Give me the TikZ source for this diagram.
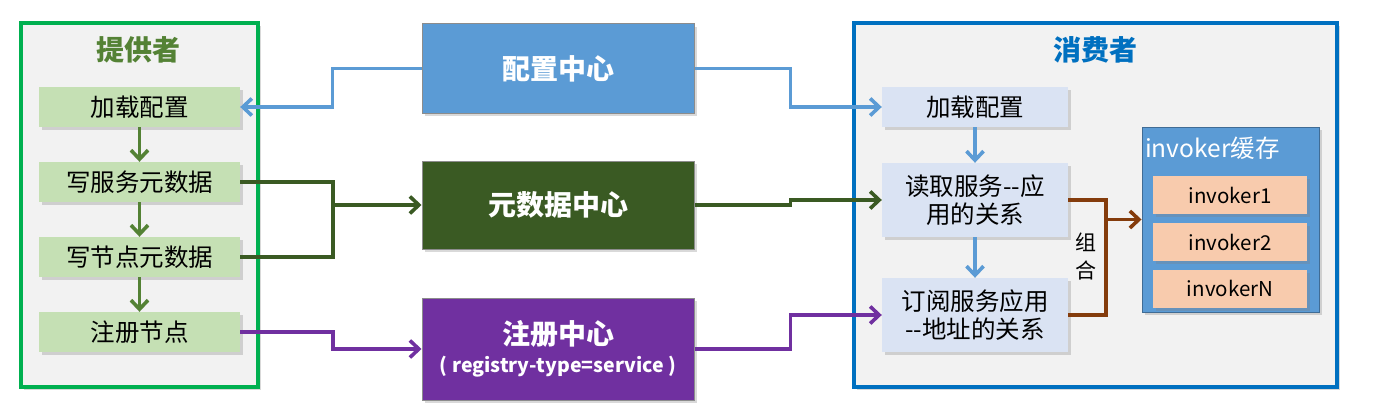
\documentclass[tikz,border=0pt]{standalone}
\usepackage{fontspec}
\newfontfamily\cjk{Noto Sans CJK SC}
\usetikzlibrary{arrows.meta,shadows}
\definecolor{framefill}{HTML}{F2F2F2}
\definecolor{provframe}{HTML}{00B050}
\definecolor{provtitle}{HTML}{548235}
\definecolor{provbox}{HTML}{C5E0B4}
\definecolor{consframe}{HTML}{0070C0}
\definecolor{consbox}{HTML}{DAE3F3}
\definecolor{cfgblue}{HTML}{5B9BD5}
\definecolor{metagreen}{HTML}{3A5A23}
\definecolor{arrowgreen}{HTML}{548235}
\definecolor{regpurple}{HTML}{7030A0}
\definecolor{combobrown}{HTML}{843C0C}
\definecolor{invitem}{HTML}{F8CBAD}
\begin{document}
\begin{tikzpicture}[x=1pt,y=-1pt,font=\cjk,
    shade/.style={drop shadow={opacity=0.3,shadow xshift=2.5pt,shadow yshift=-3pt}},
    frame/.style={draw,line width=4pt,fill=framefill,shade},
    pbox/.style={fill=provbox,minimum width=201pt,minimum height=40pt,font=\cjk\fontsize{24.5}{27}\selectfont,shade},
    cbox/.style={fill=consbox,minimum width=186pt,minimum height=40pt,align=center,font=\cjk\fontsize{24.5}{28}\selectfont,shade},
    center/.style={draw=black!45,line width=1pt,minimum width=272pt,text=white,align=center,font=\cjk\bfseries\fontsize{28}{30}\selectfont,shade},
    item/.style={fill=invitem,minimum width=154pt,minimum height=38pt,font=\cjk\fontsize{20.5}{24}\selectfont,shade},
    link/.style={line width=3.6pt,-{Straight Barb[length=9pt,width=17pt]}},
    line/.style={line width=3.6pt}]
    \useasboundingbox (0,0) rectangle (1400,420);
    % frames
    \node[frame,draw=provframe,minimum width=237pt,minimum height=364pt] (prov) at (139.5,205) {};
    \node[frame,draw=consframe,minimum width=483pt,minimum height=364pt] (cons) at (1095.5,205) {};
    \node[text=provtitle,font=\cjk\bfseries\fontsize{28}{30}\selectfont] (provT) at (138,50) {提供者};
    \node[text=consframe,font=\cjk\bfseries\fontsize{28}{30}\selectfont] (consT) at (1095,50) {消费者};
    % provider steps
    \node[pbox] (pload) at (139.5,107) {加载配置};
    \node[pbox] (pmeta1) at (139.5,182) {写服务元数据};
    \node[pbox] (pmeta2) at (139.5,257) {写节点元数据};
    \node[pbox] (preg) at (139.5,332) {注册节点};
    % centres
    \node[center,fill=cfgblue,minimum height=89pt] (cfg) at (558,68.5) {配置中心};
    \node[center,fill=metagreen,minimum height=88pt] (meta) at (558,205) {元数据中心};
    \node[center,fill=regpurple,minimum height=102pt] (reg) at (558,349) {注册中心\\[-2pt]{\fontsize{19.5}{22}\selectfont ( registry-type=service )}};
    % consumer steps
    \node[cbox] (cload) at (975,107) {加载配置};
    \node[cbox,minimum height=74pt] (cread) at (975,200) {读取服务--应\\用的关系};
    \node[cbox,minimum height=74pt] (csub) at (975,315) {订阅服务应用\\--地址的关系};
    % invoker cache
    \node[draw=cfgblue!70!black,line width=1pt,fill=cfgblue,minimum width=177pt,minimum height=185pt,shade] (inv) at (1230.5,219.5) {};
    \node[anchor=west,inner sep=0pt,text=white,font=\cjk\fontsize{24.5}{26}\selectfont] (invT) at (1145,148) {invoker缓存};
    \node[item] (inv1) at (1230,195) {invoker1};
    \node[item] (inv2) at (1230,242) {invoker2};
    \node[item] (invN) at (1230,288.5) {invokerN};
    % arrows inside the frames
    \draw[link,draw=arrowgreen] (pload) -- (pmeta1);
    \draw[link,draw=arrowgreen] (pmeta1) -- (pmeta2);
    \draw[link,draw=arrowgreen] (pmeta2) -- (preg);
    \draw[link,draw=cfgblue] (cload) -- (cread);
    \draw[link,draw=cfgblue] (cread) -- (csub);
    % config centre
    \draw[link,draw=cfgblue] (cfg.west) -- ++(-89,0) |- (pload.east);
    \draw[link,draw=cfgblue] (cfg.east) -- ++(96,0) |- (cload.west);
    % metadata centre
    \coordinate (metajoin) at (333,205);
    \draw[line,draw=metagreen] (pmeta1.east) -- ++(93,0) |- (pmeta2.east);
    \draw[link,draw=metagreen] (metajoin) -- (meta.west);
    \draw[link,draw=metagreen] (meta.east) -- ++(96,0) |- (cread.west);
    % registry centre
    \draw[link,draw=regpurple] (preg.east) -- ++(93,0) |- (reg.west);
    \draw[link,draw=regpurple] (reg.east) -- ++(96,0) |- (csub.west);
    % combine
    \coordinate (combo) at (1106,219.5);
    \draw[line,draw=combobrown] (cread.east) -- ++(38,0) |- (csub.east);
    \draw[link,draw=combobrown] (combo) -- (inv.west);
    \node[align=center,font=\cjk\fontsize{21}{28}\selectfont] (comboT) at (1086,256) {组\\合};
\end{tikzpicture}
\end{document}
